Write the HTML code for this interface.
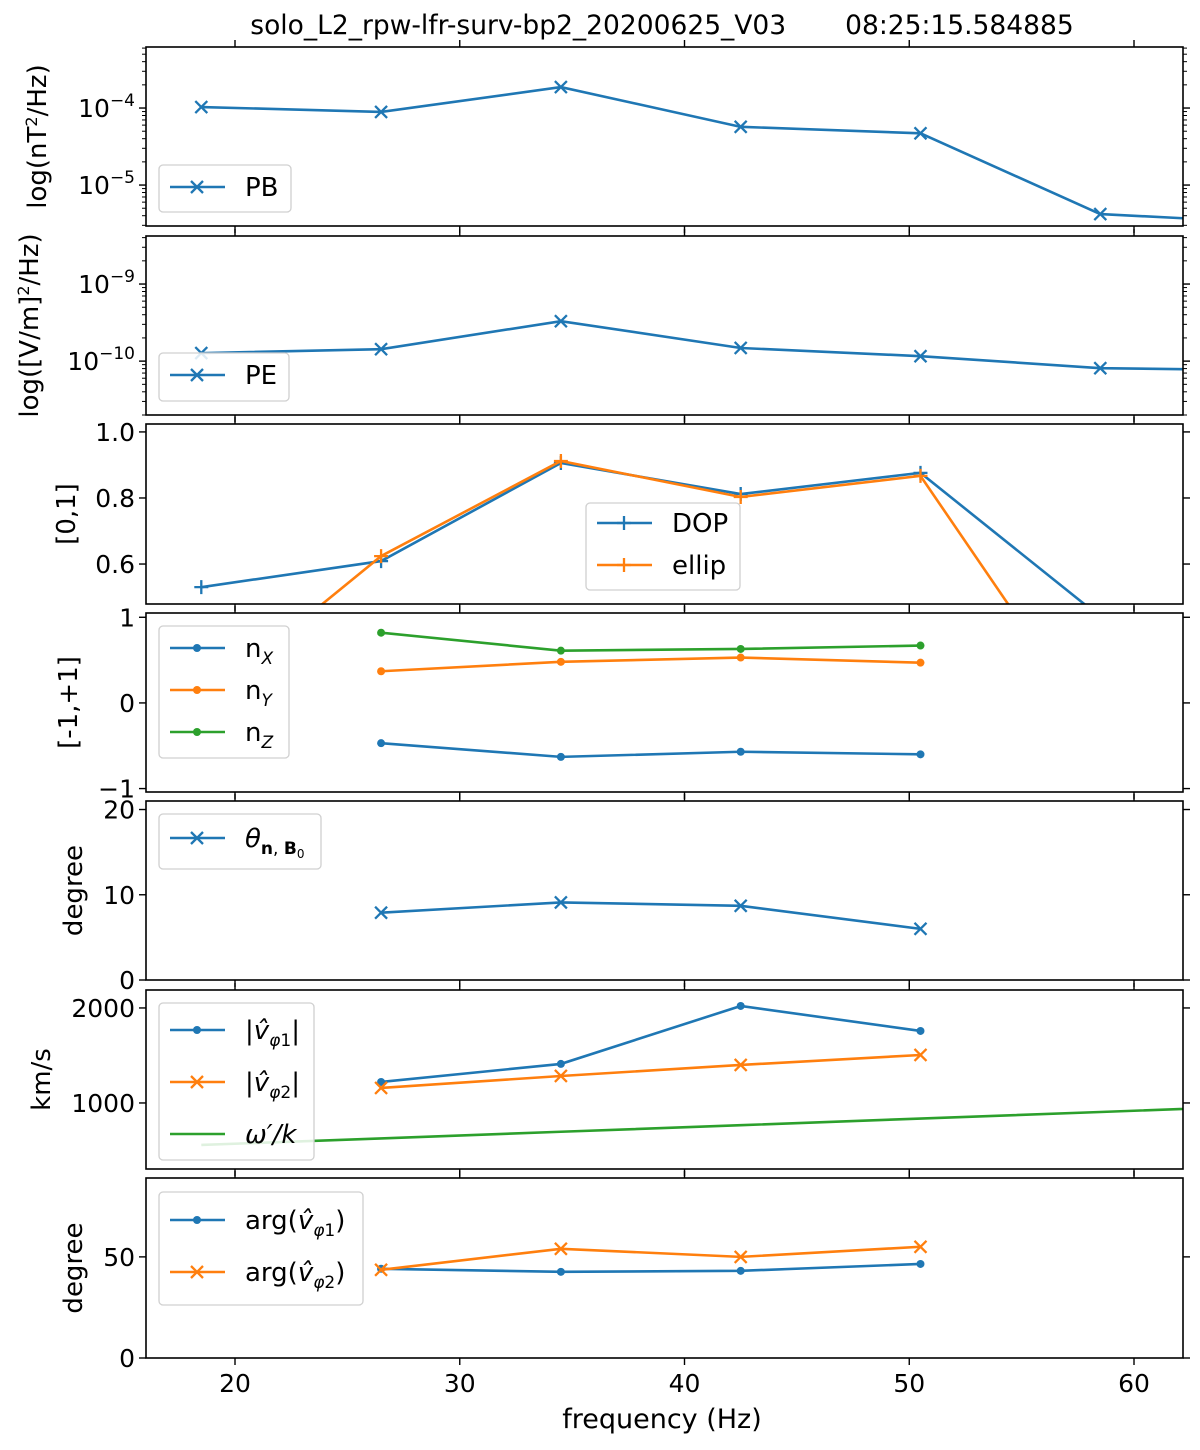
<!DOCTYPE html>
<html><head><meta charset="utf-8"><style>
body{margin:0;background:#fff;}
svg{font-family:"DejaVu Sans","Liberation Sans",sans-serif;}
</style></head><body>
<svg id="fig" width="1200" height="1445" xmlns="http://www.w3.org/2000/svg">
<text x="662" y="34" font-size="26.5" text-anchor="middle" xml:space="preserve">solo_L2_rpw-lfr-surv-bp2_20200625_V03       08:25:15.584885</text>
<text x="662" y="1428" font-size="27" text-anchor="middle">frequency (Hz)</text>
</svg>
<script>
const freqs=[18.5,26.5,34.5,42.5,50.5,58.5,66.5];
const pbVals=[1.03e-4,0.89e-4,1.87e-4,0.57e-4,0.47e-4,0.42e-5,0.32e-5];
const peVals=[1.27e-10,1.43e-10,3.3e-10,1.48e-10,1.16e-10,0.81e-10,0.76e-10];
const dopVals=[0.53,0.609,0.906,0.812,0.876,0.44,null];
const ellipVals=[0.18,0.624,0.912,0.803,0.867,0.07,null];
const nxVals=[null,-0.47,-0.63,-0.57,-0.6,null,null];
const nyVals=[null,0.37,0.48,0.53,0.47,null,null];
const nzVals=[null,0.82,0.61,0.63,0.67,null,null];
const thetaVals=[null,7.9,9.1,8.7,6.0,null,null];
const v1Vals=[null,1221,1411,2021,1758,null,null];
const v2Vals=[null,1158,1284,1400,1505,null,null];
const wkVals=[558,627,697,766,836,905,975];
const arg1Vals=[null,44.1,42.6,43.1,46.5,null,null];
const arg2Vals=[null,43.6,54,50,55,null,null];
const xTicks=[20,30,40,50,60];

const NS="http://www.w3.org/2000/svg";
const svg=document.getElementById('fig');
const X0=146,X1=1183,FMIN=16.04,FMAX=62.18;
const BLUE='#1f77b4',ORANGE='#ff7f0e',GREEN='#2ca02c';
const LW=2.6;
function xs(f){return X0+(f-FMIN)/(FMAX-FMIN)*(X1-X0);}
function mk(tag,attrs,parent){const e=document.createElementNS(NS,tag);for(const k in attrs)e.setAttribute(k,attrs[k]);(parent||svg).appendChild(e);return e;}

const panels=[
 {top:47,bot:226,log:true,min:2.94e-6,max:6.2e-4,majors:[1e-5,1e-4],labels:['10<tspan dy="-11" font-size="17">−5</tspan>','10<tspan dy="-11" font-size="17">−4</tspan>'],ylabel:'log(nT<tspan dy="-9" font-size="16">2</tspan><tspan dy="9">/Hz)</tspan>',ylx:46,name:'pb'},
 {top:236,bot:415,log:true,min:0.2e-10,max:4.2e-9,majors:[1e-10,1e-9],labels:['10<tspan dy="-11" font-size="17">−10</tspan>','10<tspan dy="-11" font-size="17">−9</tspan>'],ylabel:'log([V/m]<tspan dy="-9" font-size="16">2</tspan><tspan dy="9">/Hz)</tspan>',ylx:38,name:'pe'},
 {top:424,bot:604,min:0.479,max:1.024,majors:[0.6,0.8,1.0],labels:['0.6','0.8','1.0'],ylabel:'[0,1]',ylx:75,name:'dop'},
 {top:613,bot:792,min:-1.04,max:1.05,majors:[-1,0,1],labels:['−1','0','1'],ylabel:'[-1,+1]',ylx:77,name:'n'},
 {top:801,bot:980,min:0,max:21,majors:[0,10,20],labels:['0','10','20'],ylabel:'degree',ylx:82,name:'theta'},
 {top:990,bot:1169,min:305,max:2189,majors:[1000,2000],labels:['1000','2000'],ylabel:'km/s',ylx:50,name:'v'},
 {top:1178,bot:1358,min:0,max:89,majors:[0,50],labels:['0','50'],ylabel:'degree',ylx:82,name:'arg'}
];
function ys(p,v){if(p.log){return p.bot-(Math.log10(v)-Math.log10(p.min))/(Math.log10(p.max)-Math.log10(p.min))*(p.bot-p.top);}return p.bot-(v-p.min)/(p.max-p.min)*(p.bot-p.top);}

function cross(g,x,y,c){mk('path',{d:`M${x-6},${y-6}L${x+6},${y+6}M${x-6},${y+6}L${x+6},${y-6}`,stroke:c,'stroke-width':2.3,fill:'none'},g);}
function plus(g,x,y,c){mk('path',{d:`M${x-7},${y}L${x+7},${y}M${x},${y-7}L${x},${y+7}`,stroke:c,'stroke-width':2.3,fill:'none'},g);}
function dot(g,x,y,c){mk('circle',{cx:x,cy:y,r:4,fill:c},g);}
const markers={x:cross,'+':plus,o:dot};

function series(p,i,vals,color,marker,name){
 const g=mk('g',{'clip-path':`url(#clip${i})`});
 
 
 let pts=[];freqs.forEach((f,k)=>{if(vals[k]!==null&&vals[k]!==undefined)pts.push([xs(f),ys(p,vals[k])]);});
 mk('polyline',{points:pts.map(q=>q.join(',')).join(' '),fill:'none',stroke:color,'stroke-width':LW},g);
 if(marker)pts.forEach(q=>markers[marker](g,q[0],q[1],color));
}

function legend(x,y,w,h,entries,name){
 const g=mk('g',{});
 
 
 mk('rect',{x:x,y:y,width:w,height:h,rx:4,fill:'#fff','fill-opacity':0.85,stroke:'#d0d0d0','stroke-width':1.3},g);
 entries.forEach((e,k)=>{
  const ey=y+(e.y0||22)+k*(e.sp||42);
  mk('line',{x1:x+11,y1:ey,x2:x+66,y2:ey,stroke:e.c,'stroke-width':LW},g);
  if(e.m)markers[e.m](g,x+38,ey,e.c);
  const t=mk('text',{x:x+86,y:ey+9,'font-size':26},g);t.innerHTML=e.t;
 });
}

const defs=mk('defs',{});
panels.forEach((p,i)=>{
 const cp=mk('clipPath',{id:'clip'+i},defs);
 mk('rect',{x:X0,y:p.top,width:X1-X0,height:p.bot-p.top},cp);
});

panels.forEach((p,i)=>{
 const g=mk('g',{});
 
 
 if(p.log){
  for(let e=Math.floor(Math.log10(p.min));e<=Math.ceil(Math.log10(p.max));e++){
   for(let m=2;m<10;m++){const v=m*Math.pow(10,e);if(v<p.min||v>p.max)continue;const y=ys(p,v);
    mk('line',{x1:X0-4,y1:y,x2:X0,y2:y,stroke:'#000','stroke-width':1},g);
    mk('line',{x1:X1,y1:y,x2:X1+4,y2:y,stroke:'#000','stroke-width':1},g);}
  }
 }
 p.majors.forEach((v,k)=>{const y=ys(p,v);
  mk('line',{x1:X0-7,y1:y,x2:X0,y2:y,stroke:'#000','stroke-width':1.4},g);
  mk('line',{x1:X1,y1:y,x2:X1+7,y2:y,stroke:'#000','stroke-width':1.4},g);
  const t=mk('text',{x:X0-11,y:y+9,'font-size':25,'text-anchor':'end'},g);t.innerHTML=p.labels[k];
  
  
 });
 xTicks.forEach(f=>{const x=xs(f);
  mk('line',{x1:x,y1:p.top-7,x2:x,y2:p.top,stroke:'#000','stroke-width':1.4},g);
  mk('line',{x1:x,y1:p.bot,x2:x,y2:p.bot+7,stroke:'#000','stroke-width':1.4},g);
  if(i===panels.length-1){const t=mk('text',{x:x,y:p.bot+34,'font-size':25,'text-anchor':'middle'},g);t.textContent=f;
   
   }
 });
 const cy=(p.top+p.bot)/2;
 const yl=mk('text',{x:p.ylx,y:cy,'font-size':26,'text-anchor':'middle',transform:`rotate(-90 ${p.ylx} ${cy})`},g);yl.innerHTML=p.ylabel;
 
 
});

series(panels[0],0,pbVals,BLUE,'x','pb');
series(panels[1],1,peVals,BLUE,'x','pe');
series(panels[2],2,dopVals,BLUE,'+','dop');
series(panels[2],2,ellipVals,ORANGE,'+','ellip');
series(panels[3],3,nxVals,BLUE,'o','nx');
series(panels[3],3,nyVals,ORANGE,'o','ny');
series(panels[3],3,nzVals,GREEN,'o','nz');
series(panels[4],4,thetaVals,BLUE,'x','theta');
series(panels[5],5,v1Vals,BLUE,'o','vphi1');
series(panels[5],5,v2Vals,ORANGE,'x','vphi2');
series(panels[5],5,wkVals,GREEN,null,'omega-k');
series(panels[6],6,arg1Vals,BLUE,'o','arg-vphi1');
series(panels[6],6,arg2Vals,ORANGE,'x','arg-vphi2');

legend(159,165,132,47,[{c:BLUE,m:'x',t:'PB'}],'legend-pb');
legend(159,353,130,48,[{c:BLUE,m:'x',t:'PE'}],'legend-pe');
legend(586,503,154,87,[{c:BLUE,m:'+',t:'DOP',y0:20},{c:ORANGE,m:'+',t:'ellip',y0:20}],'legend-dop');
legend(159,626,130,132,[{c:BLUE,m:'o',t:'n<tspan dy="7" font-size="17" font-style="italic">X</tspan>'},{c:ORANGE,m:'o',t:'n<tspan dy="7" font-size="17" font-style="italic">Y</tspan>'},{c:GREEN,m:'o',t:'n<tspan dy="7" font-size="17" font-style="italic">Z</tspan>'}],'legend-n');
legend(159,814,162,55,[{c:BLUE,m:'x',t:'<tspan font-style="italic">θ</tspan><tspan dy="7" font-size="17" font-weight="bold">n</tspan><tspan font-size="17">, </tspan><tspan font-size="17" font-weight="bold">B</tspan><tspan dy="4" font-size="12">0</tspan>',y0:24}],'legend-theta');
legend(159,1003,155,157,[{c:BLUE,m:'o',t:'|<tspan font-style="italic">v̂</tspan><tspan dy="7" font-size="17"><tspan font-style="italic">φ</tspan>1</tspan><tspan dy="-7">|</tspan>',y0:27,sp:52},{c:ORANGE,m:'x',t:'|<tspan font-style="italic">v̂</tspan><tspan dy="7" font-size="17"><tspan font-style="italic">φ</tspan>2</tspan><tspan dy="-7">|</tspan>',y0:27,sp:52},{c:GREEN,t:'<tspan font-style="italic">ω′/k</tspan>',y0:27,sp:52}],'legend-v');
legend(159,1192,204,113,[{c:BLUE,m:'o',t:'arg(<tspan font-style="italic">v̂</tspan><tspan dy="7" font-size="17"><tspan font-style="italic">φ</tspan>1</tspan><tspan dy="-7">)</tspan>',y0:28,sp:52},{c:ORANGE,m:'x',t:'arg(<tspan font-style="italic">v̂</tspan><tspan dy="7" font-size="17"><tspan font-style="italic">φ</tspan>2</tspan><tspan dy="-7">)</tspan>',y0:28,sp:52}],'legend-arg');

panels.forEach((p,i)=>{
 const r=mk('rect',{x:X0,y:p.top,width:X1-X0,height:p.bot-p.top,fill:'none',stroke:'#000','stroke-width':1.6});
 
 
});
</script>
</body></html>
